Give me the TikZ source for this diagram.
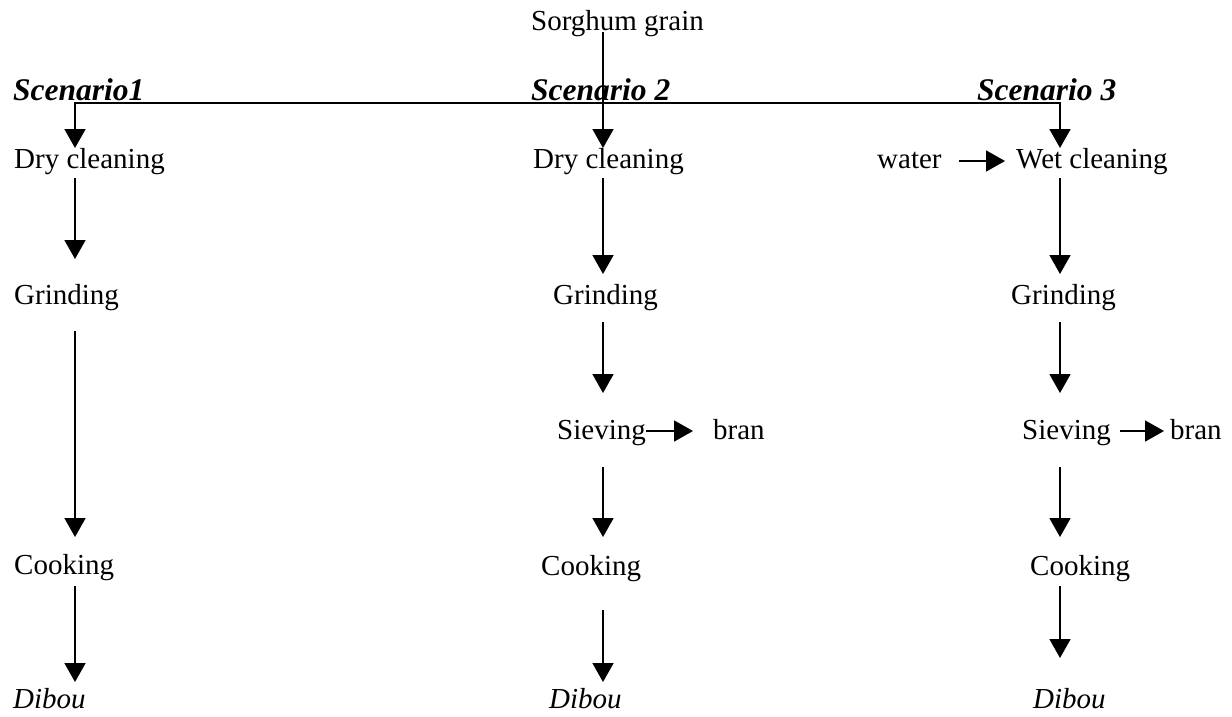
\documentclass[tikz,border=0pt]{standalone}
\usepackage{fontspec}
\setmainfont{Liberation Serif}
\usetikzlibrary{arrows.meta}
\begin{document}
\begin{tikzpicture}[x=1pt,y=-1pt,
  lbl/.style={inner sep=0pt, anchor=base west, font=\fontsize{29pt}{34pt}\selectfont},
  ilbl/.style={inner sep=0pt, anchor=base west, font=\fontsize{29pt}{34pt}\selectfont\itshape},
  scn/.style={inner sep=0pt, anchor=base west, font=\fontsize{31.5pt}{36pt}\selectfont\bfseries\itshape},
  flow/.style={line width=1.8pt},
  tip/.tip={Triangle[length=19pt,width=21pt]},
  arr/.style={flow, -tip}]
\useasboundingbox (0,0) rectangle (1232,716);
% labels
\node[lbl] (sg) at (531,30) {Sorghum grain};
\node[scn] (s1) at (13,100) {Scenario1};
\node[scn] (s2) at (531,100) {Scenario 2};
\node[scn] (s3) at (977,100) {Scenario 3};
\node[lbl] (dc1) at (14,168) {Dry cleaning};
\node[lbl] (dc2) at (533,168) {Dry cleaning};
\node[lbl] (wt) at (877,168) {water};
\node[lbl] (wc3) at (1016,168) {Wet cleaning};
\node[lbl] (gr1) at (14,304) {Grinding};
\node[lbl] (gr2) at (553,304) {Grinding};
\node[lbl] (gr3) at (1011,304) {Grinding};
\node[lbl] (sv2) at (557,439) {Sieving};
\node[lbl] (br2) at (713,439) {bran};
\node[lbl] (sv3) at (1022,439) {Sieving};
\node[lbl] (br3) at (1170,439) {bran};
\node[lbl] (co1) at (14,574) {Cooking};
\node[lbl] (co2) at (541,575) {Cooking};
\node[lbl] (co3) at (1030,575) {Cooking};
\node[ilbl] (di1) at (13,708) {Dibou};
\node[ilbl] (di2) at (549,708) {Dibou};
\node[ilbl] (di3) at (1033,708) {Dibou};
% bus
\coordinate (c1) at (75,103);
\coordinate (c2) at (603,103);
\coordinate (c3) at (1060,103);
\draw[flow, tip-tip] ([yshift=20pt]dc1.base -| c1) -- (c1) -- (c3) -- ([yshift=20pt]wc3.base -| c3);
\draw[flow] ([yshift=-2pt]sg.base -| c2) -- (c2);
\draw[arr] (c2) -- ([yshift=20pt]dc2.base -| c2);
% column 1
\draw[arr] ([yshift=-10pt]dc1.base -| c1) -- ([yshift=45pt]gr1.base -| c1);
\draw[arr] ([yshift=-27pt]gr1.base -| c1) -- ([yshift=37pt]co1.base -| c1);
\draw[arr] ([yshift=-12pt]co1.base -| c1) -- ([yshift=26pt]di1.base -| c1);
% column 2
\draw[arr] ([yshift=-10pt]dc2.base -| c2) -- ([yshift=30pt]gr2.base -| c2);
\draw[arr] ([yshift=-18pt]gr2.base -| c2) -- ([yshift=46pt]sv2.base -| c2);
\draw[arr] ([yshift=-28pt]sv2.base -| c2) -- ([yshift=38pt]co2.base -| c2);
\draw[arr] ([yshift=-35pt]co2.base -| c2) -- ([yshift=26pt]di2.base -| c2);
\draw[arr] ([yshift=8pt]sv2.base east) -- ([yshift=8pt,xshift=-20pt]br2.base west);
% column 3
\draw[arr] ([yshift=7pt,xshift=17pt]wt.base east) -- ([yshift=7pt,xshift=-11pt]wc3.base west);
\draw[arr] ([yshift=-10pt]wc3.base -| c3) -- ([yshift=30pt]gr3.base -| c3);
\draw[arr] ([yshift=-18pt]gr3.base -| c3) -- ([yshift=46pt]sv3.base -| c3);
\draw[arr] ([yshift=-28pt]sv3.base -| c3) -- ([yshift=38pt]co3.base -| c3);
\draw[arr] ([yshift=-11pt]co3.base -| c3) -- ([yshift=50pt]di3.base -| c3);
\draw[arr] ([yshift=8pt,xshift=9pt]sv3.base east) -- ([yshift=8pt,xshift=-6pt]br3.base west);
\end{tikzpicture}
\end{document}
